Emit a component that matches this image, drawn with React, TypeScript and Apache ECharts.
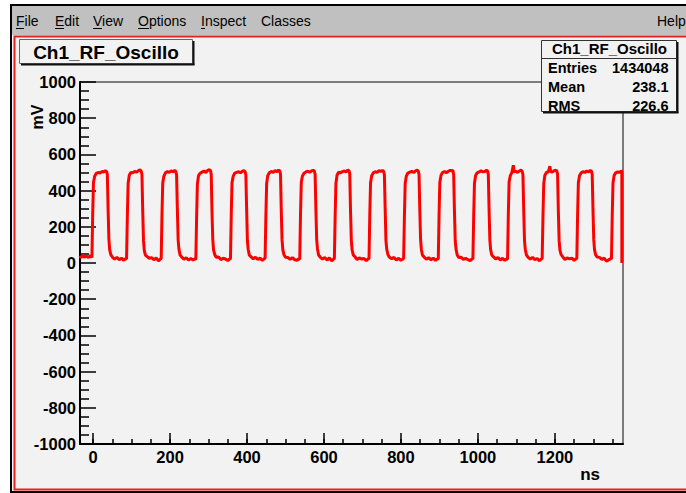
import React, { useEffect, useRef } from "react";
import * as echarts from "echarts";

// ---------- data ----------
const menuItems = ["File", "Edit", "View", "Options", "Inspect", "Classes"];
const helpItem = "Help";
const histTitle = "Ch1_RF_Oscillo";
const statLabels = ["Entries", "Mean", "RMS"];
const statValues = ["1434048", "238.1", "226.6"];
const xTitle = "ns";
const yTitle = "mV";
const xRange = [-34, 1377];
const yRange = [-1000, 1000];
const xMajorTicks = [0, 200, 400, 600, 800, 1000, 1200];
const xMinorTicks = [0, 50, 100, 150, 200, 250, 300, 350, 400, 450, 500, 550, 600, 650, 700, 750, 800, 850, 900, 950, 1000, 1050, 1100, 1150, 1200, 1250, 1300, 1350];

// oscilloscope trace: [time ns, amplitude mV]
const trace: [number, number][] = [
  [-34, 40], [-31, 28], [-27, 45], [-22, 32], [-17, 38], [-12, 30], [-7, 42],
  [-3, 30], [-1, 270], [1, 445], [4, 478], [8, 495], [13, 500], [18, 497], [23, 505], [28, 503], [32, 510], [35, 506], [37, 490], [39, 300], [41, 135], [43, 75], [46, 46], [50, 33], [56, 22], [62, 31], [68, 18], [74, 27], [80, 15], [84, 24],
  [87, 22], [89, 255], [91, 438], [94, 485], [98, 500], [103, 498], [108, 506], [113, 502], [118, 510], [122, 514], [125, 508], [127, 488], [129, 285], [131, 125], [133, 70], [136, 44], [140, 36], [146, 26], [152, 30], [158, 18], [164, 28], [170, 12], [174, 20],
  [177, 26], [179, 265], [181, 442], [184, 480], [188, 498], [193, 505], [198, 501], [203, 509], [208, 504], [212, 511], [215, 507], [217, 486], [219, 295], [221, 128], [223, 78], [226, 45], [230, 34], [236, 21], [242, 29], [248, 17], [254, 25], [260, 16], [264, 23],
  [267, 20], [269, 250], [271, 436], [274, 483], [278, 496], [283, 502], [288, 508], [293, 500], [298, 512], [302, 515], [305, 511], [307, 490], [309, 280], [311, 132], [313, 72], [316, 47], [320, 31], [326, 33], [332, 19], [338, 26], [344, 22], [350, 13], [354, 21],
  [357, 24], [359, 262], [361, 444], [364, 479], [368, 497], [373, 501], [378, 504], [383, 499], [388, 507], [392, 510], [395, 505], [397, 487], [399, 298], [401, 122], [403, 76], [406, 43], [410, 35], [416, 23], [422, 32], [428, 19], [434, 27], [440, 14], [444, 22],
  [447, 27], [449, 258], [451, 440], [454, 484], [458, 499], [463, 506], [468, 500], [473, 511], [478, 505], [482, 513], [485, 509], [487, 491], [489, 288], [491, 129], [493, 74], [496, 46], [500, 32], [506, 31], [512, 20], [518, 29], [524, 18], [530, 15], [534, 23],
  [537, 21], [539, 268], [541, 446], [544, 481], [548, 496], [553, 503], [558, 507], [563, 502], [568, 509], [572, 512], [575, 508], [577, 489], [579, 292], [581, 131], [583, 79], [586, 44], [590, 33], [596, 22], [602, 30], [608, 16], [614, 28], [620, 12], [624, 20],
  [627, 25], [629, 256], [631, 439], [634, 486], [638, 501], [643, 499], [648, 505], [653, 508], [658, 503], [662, 514], [665, 510], [667, 492], [669, 284], [671, 127], [673, 73], [676, 45], [680, 36], [686, 19], [692, 28], [698, 22], [704, 25], [710, 13], [714, 22],
  [717, 23], [719, 264], [721, 443], [724, 482], [728, 498], [733, 504], [738, 501], [743, 510], [748, 506], [752, 511], [755, 507], [757, 487], [759, 296], [761, 124], [763, 77], [766, 47], [770, 32], [776, 24], [782, 31], [788, 17], [794, 26], [800, 15], [804, 21],
  [807, 26], [809, 259], [811, 441], [814, 480], [818, 497], [823, 502], [828, 506], [833, 500], [838, 509], [842, 513], [845, 508], [847, 490], [849, 290], [851, 130], [853, 75], [856, 43], [860, 34], [866, 21], [872, 29], [878, 18], [884, 27], [890, 14], [894, 22],
  [897, 22], [899, 261], [901, 445], [904, 484], [908, 500], [913, 505], [918, 499], [923, 507], [928, 512], [932, 509], [935, 512], [937, 488], [939, 287], [941, 126], [943, 78], [946, 46], [950, 31], [956, 32], [962, 20], [968, 26], [974, 19], [980, 13], [984, 21],
  [987, 24], [989, 257], [991, 440], [994, 483], [998, 498], [1003, 503], [1008, 509], [1013, 504], [1018, 506], [1022, 512], [1025, 509], [1027, 490], [1029, 293], [1031, 128], [1033, 74], [1036, 44], [1040, 35], [1046, 23], [1052, 30], [1058, 17], [1064, 26], [1070, 14], [1074, 22],
  [1077, 21], [1079, 266], [1081, 447], [1084, 481], [1088, 499], [1092, 540], [1094, 503], [1098, 506], [1103, 501], [1108, 508], [1112, 513], [1115, 507], [1117, 489], [1119, 291], [1121, 127], [1123, 76], [1126, 45], [1130, 33], [1136, 22], [1142, 31], [1148, 18], [1154, 25], [1160, 12], [1164, 21],
  [1167, 25], [1169, 254], [1171, 438], [1174, 485], [1178, 500], [1183, 504], [1187, 535], [1189, 506], [1193, 502], [1198, 510], [1202, 512], [1205, 509], [1207, 491], [1209, 286], [1211, 125], [1213, 73], [1216, 47], [1220, 35], [1226, 19], [1232, 28], [1238, 23], [1244, 27], [1250, 15], [1254, 22],
  [1257, 23], [1259, 263], [1261, 443], [1264, 482], [1268, 497], [1273, 505], [1278, 500], [1283, 508], [1288, 504], [1292, 511], [1295, 508], [1297, 488], [1299, 294], [1301, 129], [1303, 72], [1306, 45], [1310, 33], [1316, 31], [1322, 20], [1328, 27], [1334, 10], [1340, 18], [1344, 24],
  [1347, 22], [1349, 260], [1351, 442], [1354, 484], [1358, 498], [1363, 503], [1368, 501], [1372, 508], [1374, 505], [1374, 0],
];

// ---------- component ----------
const FONT = "'Liberation Sans', Arial, Helvetica, sans-serif";
const W = 686;
const H = 493;

function txt(text: string, x: number, y: number, size: number, weight: string, align: string, z = 100, extra: any = {}) {
  return {
    type: "text",
    x,
    y,
    z,
    ...extra,
    style: {
      text,
      fill: "#000",
      fontSize: size,
      fontWeight: weight,
      fontFamily: FONT,
      align,
      textAlign: align,
      verticalAlign: "middle",
      textVerticalAlign: "middle",
    },
  };
}

function ln(x1: number, y1: number, x2: number, y2: number, color: string, width: number, z = 100) {
  return { type: "line", z, shape: { x1, y1, x2, y2 }, style: { stroke: color, lineWidth: width } };
}

export default function App() {
  const ref = useRef<HTMLDivElement>(null);

  useEffect(() => {
    if (!ref.current) return;
    const chart = echarts.init(ref.current, null, { renderer: "svg" });

    const menuX = [16, 55, 93, 138, 201, 261];
    const underlineW = [8, 9, 9, 11, 4, 0];
    const graphic: any[] = [];
    // window chrome
    graphic.push({ type: "rect", z: -20, shape: { x: 11, y: 5, width: 690, height: 487 }, style: { fill: "#f2f2f2", stroke: "#000", lineWidth: 2 } });
    graphic.push({ type: "rect", z: -19, shape: { x: 12, y: 6, width: 690, height: 29 }, style: { fill: "#c0c0c0" } });
    graphic.push({ type: "rect", z: -18, shape: { x: 14.5, y: 36.5, width: 690, height: 453 }, style: { fill: "#f2f2f2", stroke: "#e82020", lineWidth: 2 } });
    menuItems.forEach((m, i) => {
      graphic.push(txt(m, menuX[i], 21, 14, "normal", "left", -10));
      if (underlineW[i] > 0) graphic.push(ln(menuX[i], 28.5, menuX[i] + underlineW[i], 28.5, "#000", 1, -10));
    });
    graphic.push(txt(helpItem, 657, 21, 14, "normal", "left", -10));

    // title box
    graphic.push({ type: "rect", z: 100, shape: { x: 19.5, y: 39.5, width: 173, height: 24 }, style: { fill: "#f2f2f2", stroke: "#666", lineWidth: 1 } });
    graphic.push(ln(193.5, 41, 193.5, 65, "#111", 2));
    graphic.push(ln(21, 64.5, 194.5, 64.5, "#111", 2));
    graphic.push(txt(histTitle, 106, 52.5, 19, "bold", "center"));

    // stats box
    graphic.push({ type: "rect", z: 100, shape: { x: 541.5, y: 40.5, width: 135, height: 71 }, style: { fill: "#f2f2f2", stroke: "#333", lineWidth: 1 } });
    graphic.push(ln(677.5, 42, 677.5, 113, "#111", 2));
    graphic.push(ln(543, 112.5, 678.5, 112.5, "#111", 2));
    graphic.push(ln(541.5, 58.5, 676.5, 58.5, "#333", 1));
    graphic.push(txt(histTitle, 609.5, 48, 15, "bold", "center"));
    const rowY = [68, 87, 105.5];
    statLabels.forEach((l, i) => {
      graphic.push(txt(l, 548, rowY[i], 14.5, "bold", "left"));
      graphic.push(txt(statValues[i], 668.5, rowY[i], 14.5, "bold", "right"));
    });

    // axis titles
    graphic.push(txt(xTitle, 600, 474.5, 17, "bold", "right"));
    graphic.push(txt(yTitle, 37.5, 117, 16, "bold", "center", 100, { rotation: Math.PI / 2 }));

    const axisLineStyle = { color: "#000", width: 2 };
    const tickStyle = { color: "#000", width: 1.5 };
    const labelStyle = { color: "#000", fontSize: 16.5, fontWeight: "bold", fontFamily: FONT };

    const option: any = {
      animation: false,
      backgroundColor: "#ffffff",
      grid: {
        left: 80,
        top: 82,
        width: 543,
        height: 362,
        show: true,
        borderColor: "#555",
        borderWidth: 1.5,
        backgroundColor: "transparent",
      },
      xAxis: [
        {
          type: "value",
          position: "bottom",
          min: xRange[0],
          max: xRange[1],
          axisLine: { show: true, onZero: false, lineStyle: axisLineStyle },
          axisTick: { show: true, inside: true, length: 11, customValues: xMajorTicks, lineStyle: tickStyle },
          axisLabel: { ...labelStyle, customValues: xMajorTicks, margin: 4, formatter: (v: number) => String(v), showMinLabel: true, showMaxLabel: true, hideOverlap: false },
          splitLine: { show: false },
        },
        {
          type: "value",
          position: "bottom",
          min: xRange[0],
          max: xRange[1],
          axisLine: { show: false, onZero: false },
          axisTick: { show: true, inside: true, length: 5, customValues: xMinorTicks, lineStyle: tickStyle },
          axisLabel: { show: false },
          splitLine: { show: false },
        },
      ],
      yAxis: {
        type: "value",
        min: yRange[0],
        max: yRange[1],
        interval: 200,
        axisLine: { show: true, onZero: false, lineStyle: axisLineStyle },
        axisTick: { show: true, inside: true, length: 16, lineStyle: tickStyle },
        minorTick: { show: true, splitNumber: 4, length: 9, lineStyle: tickStyle },
        axisLabel: { ...labelStyle, margin: 4, formatter: (v: number) => String(v) },
        splitLine: { show: false },
        minorSplitLine: { show: false },
      },
      series: [
        {
          type: "line",
          xAxisIndex: 0,
          yAxisIndex: 0,
          data: trace,
          showSymbol: false,
          symbol: "none",
          clip: true,
          z: 3,
          lineStyle: { color: "#ff0000", width: 3 },
        },
      ],
      graphic,
    };

    chart.setOption(option);
    return () => chart.dispose();
  }, []);

  return (
    <div
      ref={ref}
      style={{ position: "fixed", left: 0, top: 0, width: W, height: H }}
    />
  );
}
